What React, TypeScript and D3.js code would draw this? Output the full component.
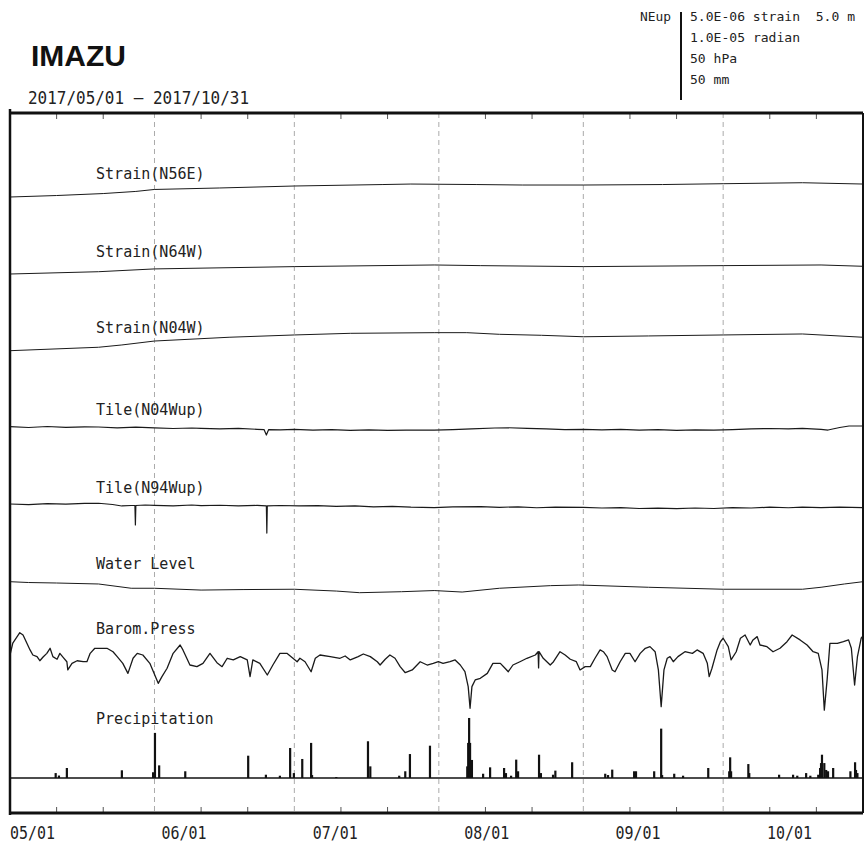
import React from "react";
import * as d3 from "d3";

// ---------- data (day offset from 2017/05/01, value) ----------
const START = new Date(2017, 4, 1);
const END = new Date(2017, 9, 31);

const monthLabels = ["05/01", "06/01", "07/01", "08/01", "09/01", "10/01"];
const traceLabels = [
  "Strain(N56E)",
  "Strain(N64W)",
  "Strain(N04W)",
  "Tile(N04Wup)",
  "Tile(N94Wup)",
  "Water Level",
  "Barom.Press",
  "Precipitation",
];
const legendLines = ["5.0E-06 strain  5.0 m", "1.0E-05 radian", "50 hPa", "50 mm"];

// strain in 1e-7
const strainN56E: [number, number][] = [
  [0, 0], [10, 0.9], [20, 2.1], [27, 3.4], [31, 4.6], [45, 5.5], [61, 6.7], [80, 7.6],
  [86, 7.9], [100, 7.6], [110, 7.3], [123, 7.3], [140, 7.6], [153, 8.1], [170, 8.7], [183, 7.9],
];
const strainN64W: [number, number][] = [
  [0, 0], [19, 1.4], [31, 3.1], [61, 4.5], [91, 5.5], [101, 5.1], [123, 4.5], [153, 5.1],
  [174, 5.5], [183, 4.7],
];
const strainN04W: [number, number][] = [
  [0, 0], [19, 2.1], [24, 3.5], [31, 5.9], [47, 8.2], [61, 9.6], [73, 10.6], [91, 11.0],
  [98, 11.0], [105, 10.0], [114, 9.4], [123, 8.5], [137, 9.0], [153, 9.6], [170, 10.2], [183, 8.2],
];
// tilt in 1e-7 radian
const tiltN04W: [number, number][] = [
  [0, 0.4], [4, -0.6], [8, 0.6], [12, -0.4], [16, 0.2], [19, 0], [23, -1.0], [27, -0.2],
  [31, -1.0], [35, -1.8], [39, -1.2], [41, -1.6], [45, -2.4], [49, -1.7], [53, -2.8],
  [54.5, -3.1], [55.0, -9.8], [55.5, -3.1], [58, -3.4], [61, -2.8], [65, -3.7], [69, -3.1],
  [73, -4.0], [77, -3.4], [81, -4.0], [85, -3.7], [91, -3.7], [95, -3.1], [99, -2.2],
  [104, -1.2], [107, -0.9], [111, -1.7], [115, -2.4], [119, -3.1], [123, -2.8], [127, -3.4],
  [131, -2.8], [135, -3.7], [139, -3.3], [143, -4.0], [147, -3.4], [151, -3.9], [155, -3.1],
  [159, -2.4], [163, -1.8], [167, -2.2], [170, -1.6], [174, -2.8], [175.5, -3.7], [178, -0.6],
  [180, 1.2], [183, 1.2],
];
const tiltN94W: [number, number][] = [
  [0, 0], [4, -0.7], [8, 0.5], [12, -0.2], [16, 0.7], [19, 0.9], [22, -0.6], [24, -2.4],
  [26, -1.8], [26.8, -1.8], [26.9, -25.6], [27.0, -1.8], [29, -1.2], [31, -1.6], [35, -2.2],
  [39, -1.2], [41, -2.1], [45, -1.5], [49, -2.4], [53, -1.7], [55.0, -2.2], [55.1, -35.4],
  [55.2, -2.4], [58, -1.8], [62, -2.4], [66, -2.0], [70, -2.9], [74, -2.4], [78, -3.4],
  [82, -2.8], [86, -3.9], [91, -4.3], [95, -3.4], [101, -3.3], [105, -4.0], [109, -3.4],
  [113, -4.6], [117, -3.9], [123, -4.0], [127, -4.9], [131, -4.3], [135, -5.5], [139, -5.0],
  [143, -5.7], [147, -4.9], [151, -5.5], [155, -4.3], [159, -4.9], [163, -3.9], [167, -4.6],
  [170, -3.7], [174, -4.4], [178, -3.9], [183, -4.5],
];
// water level in m
const waterLevel: [number, number][] = [
  [0, 0], [4, -0.05], [10, -0.08], [19, -0.14], [26, -0.4], [31, -0.4], [41, -0.51],
  [50, -0.48], [61, -0.46], [70, -0.57], [75, -0.67], [84, -0.61], [91, -0.54], [97, -0.63],
  [105, -0.4], [116, -0.24], [122, -0.2], [137, -0.34], [153, -0.46], [170, -0.46],
  [174, -0.34], [179, -0.14], [183, 0],
];
// barometric pressure in hPa
const pressure: [number, number][] = [
  [0.0, 1010.0], [0.6, 1017.3], [2.1, 1023.6], [2.8, 1022.2], [3.6, 1017.3], [4.3, 1013.1],
  [4.9, 1010.0], [5.8, 1009.0], [6.4, 1006.5], [7.1, 1008.8], [7.9, 1011.0], [8.6, 1014.1],
  [9.2, 1009.0], [10.1, 1007.4], [10.7, 1011.0], [11.4, 1008.6], [12.2, 1005.9], [12.4, 1000.9],
  [13.3, 1004.9], [14.4, 1006.5], [15.7, 1005.9], [16.5, 1005.9], [17.2, 1011.0], [18.2, 1014.1],
  [19.3, 1014.1], [20.8, 1014.1], [22.1, 1012.0], [23.0, 1009.0], [24.2, 1004.9], [25.3, 998.8],
  [26.4, 1008.0], [27.3, 1011.0], [28.5, 1010.0], [30.0, 1004.9], [31.8, 992.7], [32.6, 996.8],
  [33.7, 1001.9], [35.0, 1011.0], [36.5, 1016.1], [37.1, 1013.1], [38.6, 1003.9], [40.1, 1002.9],
  [41.4, 1004.9], [42.9, 1011.0], [44.4, 1005.3], [45.5, 1002.9], [46.6, 1008.0], [47.9, 1007.0],
  [49.4, 1009.0], [50.9, 1007.0], [51.5, 996.8], [52.1, 1007.0], [53.6, 1004.9], [55.2, 997.8],
  [56.4, 1003.9], [57.9, 1011.0], [59.4, 1011.0], [60.7, 1008.0], [61.6, 1005.9], [62.2, 1008.0],
  [63.3, 1005.9], [64.6, 999.8], [65.5, 1008.0], [66.5, 1010.0], [68.7, 1009.0], [70.8, 1008.0],
  [71.9, 1009.4], [73.0, 1007.0], [74.7, 1009.0], [75.8, 1010.6], [77.3, 1009.0], [78.8, 1005.9],
  [79.4, 1003.9], [80.5, 1007.4], [81.5, 1010.0], [82.6, 1008.0], [83.7, 1002.9], [84.8, 999.2],
  [86.3, 1000.9], [88.0, 1005.9], [89.5, 1003.9], [90.8, 1004.9], [91.9, 1005.9], [92.9, 1004.9],
  [94.4, 1005.9], [95.5, 1007.0], [96.6, 1003.9], [97.6, 999.8], [98.3, 990.7], [98.7, 977.5],
  [99.1, 990.7], [99.8, 994.8], [100.9, 995.8], [102.4, 998.8], [103.6, 1004.9], [105.2, 1004.9],
  [106.2, 1001.9], [106.9, 999.8], [107.9, 1003.9], [109.4, 1005.9], [110.9, 1008.0], [112.7, 1010.0],
  [113.3, 1012.0], [113.4, 1002.1], [113.5, 1012.0], [114.4, 1008.0], [115.9, 1003.9], [116.6, 1005.9],
  [118.0, 1012.0], [119.1, 1010.0], [120.2, 1007.4], [121.5, 1005.9], [122.3, 1000.9], [123.4, 1002.9],
  [124.5, 1002.9], [125.5, 1008.0], [126.6, 1013.1], [127.3, 1012.0], [128.1, 1009.0], [129.2, 1000.9],
  [129.8, 999.8], [130.9, 1005.9], [132.0, 1011.0], [133.0, 1011.0], [134.1, 1005.9], [135.2, 1011.0],
  [136.3, 1014.1], [137.3, 1015.1], [138.4, 1012.0], [139.1, 1000.9], [139.7, 978.5], [140.3, 1000.9],
  [141.0, 1008.0], [141.6, 1009.0], [142.3, 1005.9], [143.3, 1009.0], [144.8, 1012.0], [146.4, 1011.0],
  [147.4, 1013.1], [148.7, 1011.0], [149.6, 1004.9], [150.0, 996.8], [150.6, 1001.9], [151.7, 1013.1],
  [152.4, 1018.1], [153.0, 1020.2], [154.1, 1015.1], [154.7, 1007.0], [155.8, 1012.0], [156.7, 1020.2],
  [157.7, 1022.2], [158.8, 1016.1], [159.4, 1019.2], [160.3, 1021.2], [160.9, 1016.1], [162.4, 1015.1],
  [163.7, 1012.0], [165.2, 1014.1], [166.7, 1018.1], [167.8, 1022.2], [169.5, 1019.2], [171.0, 1016.1],
  [172.3, 1012.0], [173.4, 1011.0], [174.2, 1000.9], [174.7, 976.4], [175.3, 994.8], [175.9, 1017.1],
  [177.5, 1017.1], [178.8, 1018.1], [179.9, 1019.2], [180.5, 1014.1], [181.2, 991.7], [181.8, 1008.8],
  [182.6, 1020.2], [183.0, 1021.6],
];
// precipitation in mm
const precipitation: [number, number][] = [
  [9.8, 3.0], [10.5, 1.5], [12.2, 6.1], [24.0, 4.7], [30.7, 3.5], [31.1, 27.5], [32.0, 7.7],
  [37.6, 4.1], [51.1, 13.6], [54.9, 2.0], [57.9, 1.4], [60.1, 18.3], [60.9, 3.0], [62.7, 11.6],
  [64.6, 21.4], [64.8, 1.8], [70.0, 0.6], [76.8, 22.4], [77.3, 7.1], [83.5, 1.4], [84.8, 4.1],
  [85.8, 14.6], [90.1, 19.7], [98.1, 7.1], [98.3, 21.4], [98.5, 36.6], [98.7, 21.4], [99.1, 11.0],
  [101.5, 2.6], [103.0, 6.5], [106.0, 6.1], [106.4, 3.0], [107.5, 1.4], [108.6, 11.2], [109.0, 4.1],
  [113.5, 14.2], [113.9, 3.0], [116.5, 2.0], [117.0, 4.5], [120.6, 9.6], [127.7, 2.6], [128.3, 1.8],
  [129.2, 5.1], [133.9, 4.1], [134.3, 4.1], [138.2, 4.1], [139.7, 30.1], [139.9, 1.8], [142.5, 2.6],
  [144.4, 1.4], [149.8, 6.1], [154.3, 4.1], [154.5, 12.6], [154.7, 4.1], [158.4, 8.5], [158.6, 3.0],
  [165.0, 2.0], [168.0, 2.0], [168.9, 1.4], [170.8, 3.0], [171.7, 1.4], [173.4, 2.0], [173.8, 6.1],
  [174.0, 9.1], [174.2, 14.2], [174.7, 9.1], [175.1, 4.9], [175.5, 4.1], [176.6, 6.1], [180.3, 4.1],
  [181.3, 9.6], [181.5, 4.9], [181.8, 3.0],
];

// ---------- layout ----------
const W = 866;
const H = 842;
const L = 10;
const R = 863;
const T = 113;
const B = 813;
const SCALE_BAR = 82; // px length of the legend bar

const MONO = "'DejaVu Sans Mono', monospace";

export default function App() {
  const x = d3.scaleTime().domain([START, END]).range([L, R]);
  const toDate = (d: number) => new Date(START.getTime() + d * 864e5);

  // per-trace vertical scales (value -> y)
  const mk = (baseY: number, ref: number, unitsPerBar: number) =>
    d3.scaleLinear().domain([ref, ref + unitsPerBar]).range([baseY, baseY - SCALE_BAR]);

  const traces = [
    { data: strainN56E, y: mk(197, 0, 50), lw: 1 },
    { data: strainN64W, y: mk(274, 0, 50), lw: 1 },
    { data: strainN04W, y: mk(350.7, 0, 50), lw: 1 },
    { data: tiltN04W, y: mk(427, 0, 100), lw: 1.2 },
    { data: tiltN94W, y: mk(504, 0, 100), lw: 1.2 },
    { data: waterLevel, y: mk(581.7, 0, 5), lw: 1 },
    { data: pressure, y: mk(655, 1010, 50), lw: 1.3 },
  ];
  const labelY = [179, 257, 333, 415, 493, 569, 634, 724];
  const precipY = mk(778, 0, 50);

  const line = d3
    .line<[number, number]>()
    .x((p) => x(toDate(p[0])));

  const months = d3.timeMonth.range(d3.timeMonth.offset(START, 1), END);
  const minor = d3
    .timeDay.range(START, END)
    .filter((d) => d.getDate() === 11 || d.getDate() === 21);
  const labelX = d3.scaleLinear().domain([0, monthLabels.length - 1]).range([L, 767]);

  return (
    <svg
      width={W}
      height={H}
      style={{ position: "absolute", left: 0, top: 0, background: "#fff" }}
    >
      <rect x={0} y={0} width={W} height={H} fill="#fff" />
      {/* title */}
      <text x={31} y={66} fontFamily="'Liberation Sans', Arial, sans-serif" fontWeight="bold" fontSize={30} fill="#111">
        IMAZU
      </text>
      <text x={28} y={104} fontFamily={MONO} fontSize={17} fill="#222" textLength={221} lengthAdjust="spacingAndGlyphs">
        2017/05/01 — 2017/10/31
      </text>

      {/* legend */}
      <text x={640} y={21} fontFamily={MONO} fontSize={13} fill="#222" textLength={31} lengthAdjust="spacingAndGlyphs">
        NEup
      </text>
      <line x1={681} x2={681} y1={12} y2={100} stroke="#111" strokeWidth={2} />
      {legendLines.map((t, i) => (
        <text
          key={t}
          x={690}
          y={21 + i * 21}
          fontFamily={MONO}
          fontSize={13}
          fill="#222"
          textLength={t.length * 7.86}
          lengthAdjust="spacingAndGlyphs"
          style={{ whiteSpace: "pre" }}
        >
          {t}
        </text>
      ))}

      {/* month grid */}
      {months.map((m) => (
        <line
          key={+m}
          x1={x(m)}
          x2={x(m)}
          y1={T}
          y2={B}
          stroke="#aaa"
          strokeWidth={1}
          strokeDasharray="5,4"
        />
      ))}
      {/* minor ticks */}
      {minor.map((d) => (
        <g key={+d}>
          <line x1={x(d)} x2={x(d)} y1={T} y2={T + 6} stroke="#555" strokeWidth={1} />
          <line x1={x(d)} x2={x(d)} y1={B} y2={B - 6} stroke="#555" strokeWidth={1} />
        </g>
      ))}

      {/* traces */}
      {traces.map((tr, i) => (
        <path
          key={i}
          d={line.y((p) => tr.y(p[1]))(tr.data) || ""}
          fill="none"
          stroke="#1a1a1a"
          strokeWidth={tr.lw}
          strokeLinejoin="round"
        />
      ))}

      {/* precipitation */}
      {precipitation.map((p, i) => {
        const px = x(toDate(p[0]));
        const top = precipY(p[1]);
        return (
          <rect key={i} x={px - 1.1} y={top} width={2.2} height={precipY(0) - top} fill="#111" />
        );
      })}
      <line x1={L} x2={R} y1={precipY(0)} y2={precipY(0)} stroke="#111" strokeWidth={1.5} />

      {/* labels */}
      {traceLabels.map((t, i) => (
        <text
          key={t}
          x={96}
          y={labelY[i]}
          fontFamily={MONO}
          fontSize={16.5}
          fill="#222"
          textLength={t.length * 9.05}
          lengthAdjust="spacingAndGlyphs"
        >
          {t}
        </text>
      ))}

      {/* frame */}
      <line x1={L} x2={R} y1={T} y2={T} stroke="#111" strokeWidth={3} />
      <line x1={L} x2={R} y1={B} y2={B} stroke="#111" strokeWidth={3} />
      <line x1={L} x2={L} y1={T - 4} y2={B + 2} stroke="#111" strokeWidth={2.5} />
      <line x1={R} x2={R} y1={T} y2={B} stroke="#111" strokeWidth={2} />

      {/* x labels */}
      {monthLabels.map((t, i) => (
        <text
          key={t}
          x={labelX(i)}
          y={839}
          fontFamily={MONO}
          fontSize={17}
          fill="#222"
          textLength={45}
          lengthAdjust="spacingAndGlyphs"
        >
          {t}
        </text>
      ))}
    </svg>
  );
}
